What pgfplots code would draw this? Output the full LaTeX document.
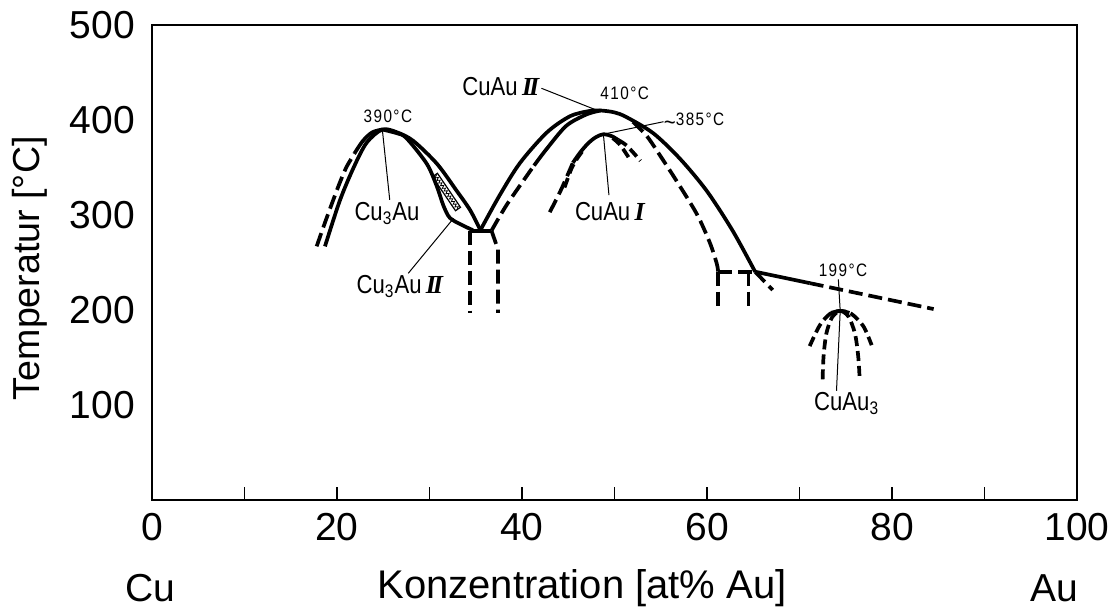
\documentclass[border=0pt]{standalone}
\usepackage{fontspec}
\setmainfont{Liberation Sans}
\newfontfamily\din[FakeStretch=0.85]{Liberation Sans}
\newfontfamily\dint[FakeStretch=0.85,LetterSpace=8]{Liberation Sans}
\newfontfamily\romfont{Liberation Serif}
\usepackage{pgfplots}
\pgfplotsset{compat=1.18}
\usetikzlibrary{calc,decorations.pathmorphing}

% roman numerals of the ordered phases
\newcommand{\RomII}{{\romfont\bfseries\itshape I\kern-0.12em I}}
\newcommand{\RomI}{{\romfont\bfseries\itshape I}}
% "approximately" sign set at mid height
\newcommand{\approxsign}{\raisebox{-0.45ex}{\fontsize{12}{12}\selectfont\symbol{126}}}

\begin{document}
\begin{tikzpicture}[
  sol/.style={line width=1.85pt, line cap=butt, line join=round},
  dsh/.style={sol, dash pattern=on 7pt off 3pt},
  dshs/.style={sol, dash pattern=on 5pt off 2.5pt},
  lead/.style={line width=0.5pt},
  phase/.style={font=\din\fontsize{13}{14}\selectfont, inner sep=0pt},
  temp/.style={font=\dint\fontsize{9}{10}\selectfont, inner sep=0pt},
]
\begin{axis}[
  scale only axis, width=462.5pt, height=237.5pt,
  xmin=0, xmax=100, ymin=0, ymax=500,
  xtick={0,20,...,100}, minor xtick={10,30,...,90},
  ytick={100,200,...,500},
  tick pos=left, tick align=inside,
  major tick length=6.5pt, minor tick length=6.5pt,
  tick style={black, line width=0.7pt},
  ytick style={draw=none},
  axis line style={line width=1pt},
  every tick label/.append style={font=\fontsize{19.5}{21}\selectfont},
  /pgf/number format/assume math mode=true,
  xticklabel style={yshift=-3pt},
  yticklabel style={xshift=-5pt},
  clip=false,
]
\coordinate (bl) at (rel axis cs:0,0);
\coordinate (tr) at (rel axis cs:1,1);

% ---- Cu3Au ----
\addplot[dsh, smooth, tension=0.5] coordinates {(17.8,267) (18.7,292) (19.6,316) (20.3,334) (21.0,350) (21.9,365)};
\addplot[sol, smooth, tension=0.5] coordinates {(21.9,365) (22.8,378) (23.8,387) (24.9,390)};
\addplot[sol, smooth, tension=0.5] coordinates {(18.7,267) (20.3,315) (21.8,350) (23.2,376) (24.9,390) (26.5,387) (28.25,378) (30.8,354) (32.9,326) (34.4,305) (35.5,284)};
\addplot[sol, smooth, tension=0.5] coordinates {(24.9,390) (26.5,386) (27.5,381) (29.7,354) (30.8,330) (31.5,310) (32.2,297) (33.5,289.5) (34.7,284)};
\addplot[sol] coordinates {(34.4,283.5) (36.7,283.5)};
\addplot[dsh] coordinates {(34.4,283.5) (34.4,197)};
\addplot[dsh] coordinates {(36.7,283.5) (37.4,264) (37.4,197)};
% two-phase strip Cu3Au / Cu3Au II
\addplot[line width=0.6pt] coordinates {(30.32,340.3) (30.86,343.9) (33.35,308.1) (32.81,304.5) (30.32,340.3)};
\addplot[line width=0.4pt, decorate, decoration={zigzag, segment length=1.6pt, amplitude=0.7pt}] coordinates {(30.59,342.1) (33.08,306.3)};

% ---- CuAu II ----
\addplot[sol, smooth, tension=0.5] coordinates {(35.5,284) (37.6,321) (39.8,355) (42.7,387) (45.2,404) (47.3,409.5) (48.5,410) (50.0,408) (51.3,403) (54.2,386) (57.1,359) (60.0,325) (62.8,283) (65.2,240.3)};
\addplot[dsh, smooth, tension=0.5] coordinates {(36.7,283.5) (38.3,310) (40.5,341) (41.3,352)};
\addplot[sol, smooth, tension=0.5] coordinates {(41.3,352) (42.7,370) (44.8,394) (47.0,406) (48.5,410)};
\addplot[dsh, smooth, tension=0.5] coordinates {(52.0,398) (53.5,383) (54.9,363) (56.7,336) (58.9,301) (60.3,271) (61.05,249) (61.2,240.3)};
\addplot[dsh] coordinates {(61.2,240.3) (61.2,201.8)};
\addplot[dsh] coordinates {(61.2,240.3) (65.2,240.3)};
\addplot[dsh] coordinates {(64.5,240.3) (64.5,201)};
\addplot[dsh] coordinates {(65.2,240.3) (67.1,221)};
\addplot[sol] coordinates {(65.2,240.3) (71.1,228.3)};
\addplot[dsh] coordinates {(71.1,228.3) (84.5,201)};

% ---- CuAu I ----
\addplot[dsh, smooth, tension=0.5] coordinates {(43.0,303) (44.0,322) (44.7,337) (45.5,355)};
\addplot[sol, smooth, tension=0.5] coordinates {(45.5,355) (46.3,366) (47.2,376) (48.0,382) (48.8,385) (49.7,383) (50.4,379)};
\addplot[dshs, smooth, tension=0.5] coordinates {(50.4,379) (51.2,374) (52.0,366) (52.8,357)};
\addplot[dshs, smooth, tension=0.5] coordinates {(49.8,381) (50.5,375) (51.1,367) (51.7,358)};
\addplot[dshs, smooth, tension=0.5] coordinates {(44.6,329) (45.0,340) (45.4,350) (46.0,360) (46.6,368)};

% ---- CuAu3 ----
\addplot[dshs, smooth, tension=0.5] coordinates {(71.1,162) (72.2,184) (73.3,196) (74.4,199) (75.6,196) (76.9,183) (77.8,163)};
\addplot[dshs, smooth, tension=0.5] coordinates {(72.5,127) (72.6,151) (72.9,175) (73.5,192) (74.4,199) (75.3,193) (76.0,175) (76.35,151) (76.5,128)};
\addplot[sol, smooth, tension=0.5] coordinates {(73.4,197) (74.4,199) (75.4,197)};

% ---- leader lines ----
\addplot[lead] coordinates {(24.9,390) (25.7,316)};
\addplot[lead] coordinates {(27.7,238.6) (32.6,296.5)};
\addplot[lead] coordinates {(42.1,433.4) (47.9,411)};
\addplot[lead] coordinates {(49.0,385.5) (55.3,398.2)};
\addplot[lead] coordinates {(48.8,385) (49.4,321)};
\addplot[lead] coordinates {(74.2,232.3) (74.4,199)};
\addplot[lead] coordinates {(74.4,199) (74.0,115)};

% ---- labels ----
\node[temp] at (axis cs:25.5,403.5) {390°C};
\node[phase] at (axis cs:25.4,301.8) {Cu\textsubscript{3}Au};
\node[phase] at (axis cs:26.8,224.5) {Cu\textsubscript{3}Au\,\RomII};
\node[phase, anchor=east] at (axis cs:41.9,434.7) {CuAu\,\RomII};
\node[temp] at (axis cs:51.1,428) {410°C};
\node[temp, anchor=west] at (axis cs:55.3,398.2) {\approxsign385°C};
\node[phase] at (axis cs:49.5,303.5) {CuAu\,\RomI};
\node[temp] at (axis cs:74.7,242) {199°C};
\node[phase] at (axis cs:75.1,101.8) {CuAu\textsubscript{3}};

% ---- axis descriptions ----
\node[font=\fontsize{19.5}{21}\selectfont] at (axis description cs:-0.002,-0.185) {Cu};
\node[font=\fontsize{19.5}{21}\selectfont] at (axis description cs:0.976,-0.185) {Au};
\node[font=\fontsize{20}{22}\selectfont] at (axis description cs:0.465,-0.185) {Konzentration [at\% Au]};
\node[font=\fontsize{18.8}{20}\selectfont, rotate=90] at (axis description cs:-0.132,0.488) {Temperatur [°C]};
\end{axis}
\pgfresetboundingbox
\path[use as bounding box] ($(bl)+(-76pt,-55pt)$) rectangle ($(tr)+(15.5pt,12.5pt)$);
\end{tikzpicture}
\end{document}
